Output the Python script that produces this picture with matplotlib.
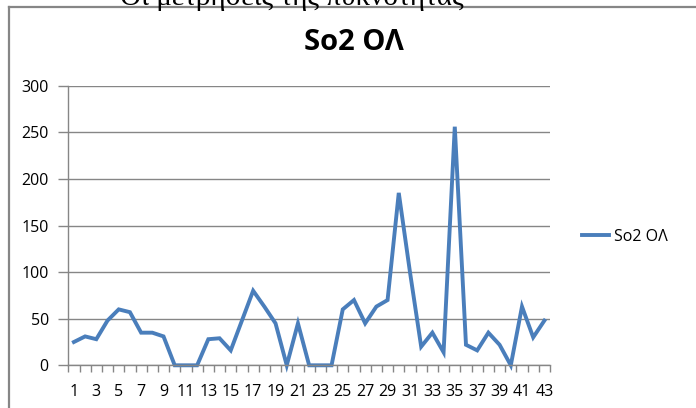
import matplotlib
matplotlib.use("Agg")
import matplotlib.pyplot as plt
from matplotlib.lines import Line2D
from matplotlib.ticker import FixedLocator, NullFormatter

# Measurement series
days = list(range(1, 44))
so2 = [25, 31, 28, 48, 60, 57, 35, 35, 31, 0, 0, 0, 28, 29, 16, 48, 80, 63, 45, 0,
       45, 0, 0, 0, 60, 70, 45, 63, 70, 185, 100, 20, 35, 14, 256, 22, 16, 35, 22, 0,
       63, 30, 48]
series_name = "So2 ΟΛ"
chart_title = "So2 ΟΛ"
heading = "Οι μετρήσεις της πυκνότητας"
y_ticks = [0, 50, 100, 150, 200, 250, 300]
x_labels = [str(d) for d in days if d % 2 == 1]

W, H = 696, 408
fig = plt.figure(figsize=(W / 100, H / 100), dpi=100)
fig.patch.set_facecolor("white")

sans = ["Open Sans", "DejaVu Sans"]
grey = "#868686"
blue = "#4A7EBB"

# Document heading above the chart frame (partly outside the page area)
fig.text(120 / W, 1 - 5 / H, heading, family=["Liberation Serif", "DejaVu Serif"],
         fontsize=21, ha="left", va="baseline", color="black")

# Chart frame: top and left edges
fig.add_artist(Line2D([8.5 / W, 1.01], [1 - 7 / H, 1 - 7 / H], transform=fig.transFigure,
                      color=grey, lw=1.6))
fig.add_artist(Line2D([8.5 / W, 8.5 / W], [1 - 7 / H, -0.01], transform=fig.transFigure,
                      color=grey, lw=1.6))

ax = fig.add_axes([68.3 / W, 1 - 365.3 / H, 481.7 / W, 279.6 / H])
ax.plot(days, so2, color=blue, lw=2.8, solid_joinstyle="miter", label=series_name,
        clip_on=False)

ax.set_xlim(0.5, 43.5)
ax.set_ylim(0, 300)
ax.set_yticks(y_ticks)
ax.set_yticklabels([str(v) for v in y_ticks])
ax.yaxis.grid(True, color=grey, lw=1.0)
ax.set_axisbelow(True)

ax.set_xticks([d for d in days if d % 2 == 1])
ax.set_xticklabels(x_labels)
ax.xaxis.set_minor_locator(FixedLocator([i + 0.5 for i in range(0, 44)]))
ax.xaxis.set_minor_formatter(NullFormatter())
ax.tick_params(axis="x", which="major", length=0, pad=13.5, labelsize=11.5,
               labelcolor="black")
ax.tick_params(axis="x", which="minor", length=5, width=1, color=grey, direction="out")
ax.tick_params(axis="y", length=7, width=1, color=grey, pad=7, labelsize=11.5,
               labelcolor="black")
for lbl in ax.get_xticklabels() + ax.get_yticklabels():
    lbl.set_family(sans)

for side in ("top", "right"):
    ax.spines[side].set_visible(False)
for side in ("left", "bottom"):
    ax.spines[side].set_color(grey)
    ax.spines[side].set_linewidth(1.0)

fig.text(354 / W, 1 - 43 / H, chart_title, family=sans, fontsize=21, fontweight="bold",
         ha="center", va="center", color="black")

leg = ax.legend(loc="center left", bbox_to_anchor=(582 / W, 1 - 237 / H),
                bbox_transform=fig.transFigure, frameon=False, borderpad=0,
                borderaxespad=0, handlelength=1.7, handletextpad=0.3,
                prop={"family": sans, "size": 11.5})

fig.savefig("out.png", dpi=100, facecolor="white")
